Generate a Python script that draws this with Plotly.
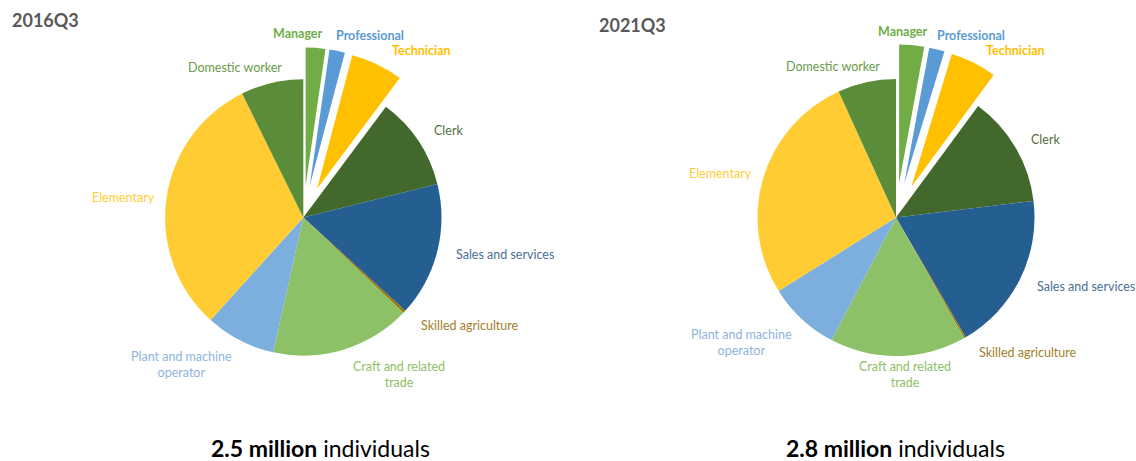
import plotly.graph_objects as go

# Occupation groups, listed clockwise from 12 o'clock
categories = [
    "Manager", "Professional", "Technician", "Clerk", "Sales and services",
    "Skilled agriculture", "Craft and related trade", "Plant and machine operator",
    "Elementary", "Domestic worker",
]

# Share of employed individuals (%) in each quarter
share_2016q3 = [2.3, 1.8, 6.1, 10.9, 15.7, 0.3, 16.4, 8.2, 31.0, 7.3]
share_2021q3 = [2.9, 1.8, 5.4, 13.0, 18.5, 0.2, 15.9, 8.4, 27.1, 6.8]

# Slice labels as they are drawn (line breaks for the long ones)
label_text = [
    "Manager", "Professional", "Technician", "Clerk", "Sales and services",
    "Skilled agriculture", "Craft and related<br>trade", "Plant and machine<br>operator",
    "Elementary", "Domestic worker",
]
bold_labels = {"Manager", "Professional", "Technician"}

period_titles = ["2016Q3", "2021Q3"]
totals = ["2.5 million", "2.8 million"]

colors = [
    "#70AD47", "#5B9BD5", "#FFC000", "#43682B", "#255E91",
    "#9E7700", "#8CC168", "#7CAFDD", "#FFCD33", "#5B8C3A",
]
label_colors = [
    "#70AD47", "#5B9BD5", "#FFC000", "#52703F", "#4A6F95",
    "#A0802A", "#8CC168", "#8EB4DC", "#FFCD33", "#6A9A4A",
]

W, H = 1136, 461
FONT = "Lato"


def px_x(x):
    return x / W


def px_y(y):
    return 1 - y / H


def pie_domain(cx, cy, r, pull):
    half = r * (1 + pull)
    return dict(
        x=[(cx - half) / W, (cx + half) / W],
        y=[(H - cy - half) / H, (H - cy + half) / H],
    )


pies = [
    dict(values=share_2016q3, cx=303.3, cy=217.5, r=138.2, pull=0.23),
    dict(values=share_2021q3, cx=896.0, cy=217.5, r=138.5, pull=0.25),
]

fig = go.Figure()
for p in pies:
    pulls = [p["pull"] if c in bold_labels else 0 for c in categories]
    fig.add_trace(go.Pie(
        labels=categories,
        values=p["values"],
        sort=False,
        direction="clockwise",
        rotation=0,
        pull=pulls,
        marker=dict(colors=colors, line=dict(width=0)),
        textinfo="none",
        hoverinfo="label+percent",
        showlegend=False,
        domain=pie_domain(p["cx"], p["cy"], p["r"], p["pull"]),
    ))

# Label anchor points (pixel centres) for each pie
label_pos = [
    [(298, 33), (369.5, 35.5), (421, 50.7), (448.5, 130), (505, 254.3),
     (470, 325.7), (399, 374.3), (181, 364.7), (123, 197.7), (235, 67.5)],
    [(903, 31.7), (971, 35.5), (1015.4, 50.7), (1045.5, 139.3), (1086, 286.7),
     (1028, 352.7), (904.5, 374.7), (741, 342.3), (720, 173.3), (832.6, 66.7)],
]

annotations = []
for positions in label_pos:
    for name, text, col, (x, y) in zip(categories, label_text, label_colors, positions):
        shown = f"<b>{text}</b>" if name in bold_labels else text
        annotations.append(dict(
            x=px_x(x), y=px_y(y), xref="paper", yref="paper",
            text=shown, showarrow=False, xanchor="center", yanchor="middle",
            font=dict(family=FONT, size=12.5, color=col),
        ))

# Period titles
for title, (x, y) in zip(period_titles, [(10, 20), (597, 25)]):
    annotations.append(dict(
        x=px_x(x), y=px_y(y), xref="paper", yref="paper",
        text=f"<b>{title}</b>", showarrow=False, xanchor="left", yanchor="middle",
        font=dict(family=FONT, size=18, color="#595959"),
    ))

# Totals under each pie
for total, (x, y) in zip(totals, [(320, 448.3), (895.6, 448.3)]):
    annotations.append(dict(
        x=px_x(x), y=px_y(y), xref="paper", yref="paper",
        text=f"<b>{total}</b> individuals", showarrow=False,
        xanchor="center", yanchor="middle",
        font=dict(family=FONT, size=23, color="#000000"),
    ))

fig.update_layout(
    width=W, height=H,
    margin=dict(l=0, r=0, t=0, b=0),
    paper_bgcolor="white",
    plot_bgcolor="white",
    annotations=annotations,
)

fig.write_html("out.html")
